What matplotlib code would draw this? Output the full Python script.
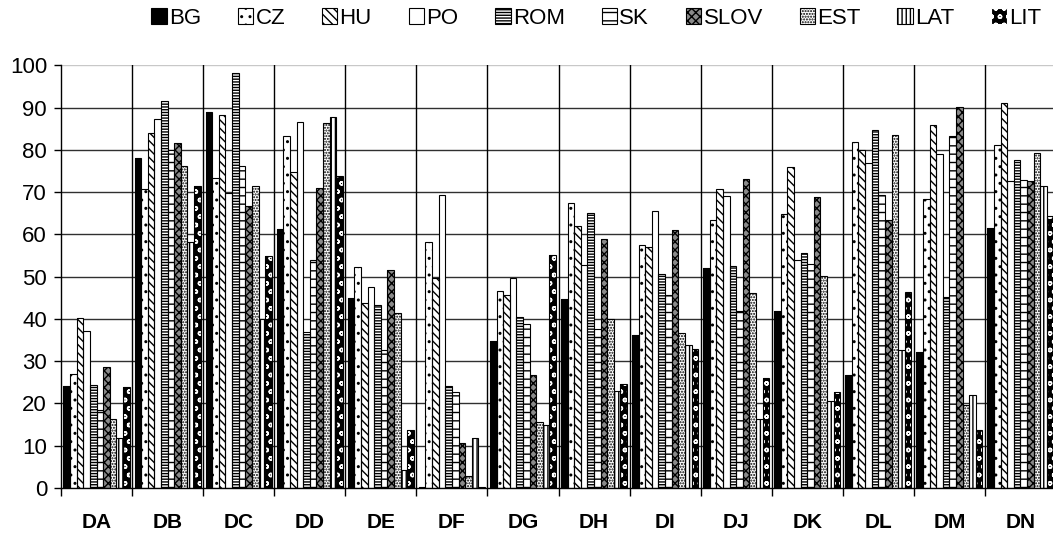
import numpy as np
import matplotlib.pyplot as plt
from matplotlib.patches import Patch

plt.rcParams['font.family'] = ['Liberation Sans', 'DejaVu Sans']
plt.rcParams['hatch.linewidth'] = 1.0

groups = ["DA", "DB", "DC", "DD", "DE", "DF", "DG", "DH", "DI", "DJ", "DK", "DL", "DM", "DN"]
series = ["BG", "CZ", "HU", "PO", "ROM", "SK", "SLOV", "EST", "LAT", "LIT"]

BG = [24.2, 78.2, 89.0, 61.3, 45.0, 0.2, 34.9, 44.8, 36.3, 52.1, 42.0, 26.8, 32.3, 61.5]
CZ = [27.0, 70.8, 73.3, 83.2, 52.4, 58.1, 46.5, 67.4, 57.6, 63.5, 64.8, 81.9, 68.4, 81.1]
HU = [40.2, 84.0, 88.2, 74.7, 43.8, 49.8, 45.6, 62.1, 57.0, 70.8, 75.9, 80.0, 85.8, 91.1]
PO = [37.1, 87.3, 69.8, 86.6, 47.5, 69.3, 49.8, 52.8, 65.5, 69.2, 54.0, 76.9, 79.0, 72.7]
ROM = [24.4, 91.6, 98.2, 36.8, 43.4, 24.2, 40.4, 65.1, 50.6, 52.5, 55.7, 84.8, 45.3, 77.7]
SK = [18.4, 80.0, 76.1, 53.9, 32.6, 22.7, 38.8, 37.6, 45.7, 42.0, 53.0, 69.4, 83.2, 72.9]
SLOV = [28.6, 81.6, 66.8, 71.0, 51.7, 10.6, 26.8, 59.0, 61.1, 73.1, 68.9, 63.5, 90.1, 72.7]
EST = [16.4, 76.1, 71.5, 86.4, 41.4, 2.8, 15.6, 40.0, 36.7, 46.2, 50.1, 83.6, 19.7, 79.3]
LAT = [11.8, 58.2, 40.0, 87.9, 4.2, 11.8, 15.0, 22.9, 33.8, 16.3, 20.5, 32.7, 22.0, 71.5]
LIT = [23.8, 71.5, 54.8, 73.9, 13.8, 0.2, 55.2, 24.5, 33.0, 26.0, 22.6, 46.4, 13.8, 64.3]
values = [BG, CZ, HU, PO, ROM, SK, SLOV, EST, LAT, LIT]

# face colour, hatch, hatch colour
styles = [
    ("black", "", "black"),
    ("white", "..", "black"),
    ("white", "\\\\\\\\", "black"),
    ("white", "", "black"),
    ("white", "------", "black"),
    ("white", "--", "black"),
    ("#8a8a8a", "xxxx", "black"),
    ("white", "......", "black"),
    ("white", "||||", "black"),
    ("black", "oo", "white"),
]

fig = plt.figure(figsize=(10.53, 5.39), dpi=100)
ax = fig.add_axes([61 / 1053, 51 / 539, 995 / 1053, 422.6 / 539])

x = np.arange(len(groups))
w = 0.093
start = 0.035

# grid first so bars sit on top
for yv in range(10, 100, 10):
    ax.axhline(yv, color="#303030", lw=1.0, zorder=0)
ax.axhline(100, color="#c8c8c8", lw=1.0, zorder=0)
for xv in range(1, len(groups)):
    ax.axvline(xv, color="black", lw=1.0, zorder=0)

handles = []
for j, (name, vals) in enumerate(zip(series, values)):
    fc, h, hc = styles[j]
    pos = x + start + (j + 0.5) * w
    ax.bar(pos, vals, w, color=fc, hatch=h, edgecolor=hc, linewidth=0, zorder=2)
    ax.bar(pos, vals, w, fill=False, edgecolor="black", linewidth=0.8, zorder=3)
    handles.append(Patch(facecolor=fc, hatch=h, edgecolor=hc if j == 9 else "black",
                         linewidth=0.8, label=name))

ax.set_xlim(0, len(groups))
ax.set_ylim(0, 100)
ax.set_yticks(range(0, 101, 10))
ax.tick_params(axis="y", length=5, width=1, pad=5, labelsize=16)

ax.set_xticks(range(len(groups) + 1))
ax.set_xticklabels([])
ax.tick_params(axis="x", which="major", length=6, width=1, direction="out")
ax.set_xticks(x + 0.5, minor=True)
ax.set_xticklabels(groups, minor=True, fontweight="bold", fontsize=15)
ax.tick_params(axis="x", which="minor", length=0, pad=18)

for s in ["top", "right"]:
    ax.spines[s].set_visible(False)
ax.spines["left"].set_linewidth(1)
ax.spines["bottom"].set_linewidth(1)

fig.legend(handles=handles, loc="center", bbox_to_anchor=(0.566, 0.966), ncol=10,
           frameon=False, fontsize=16, handlelength=0.7, handleheight=0.7,
           handletextpad=0.1, columnspacing=1.65, borderaxespad=0)

fig.savefig("out.png", dpi=100)
